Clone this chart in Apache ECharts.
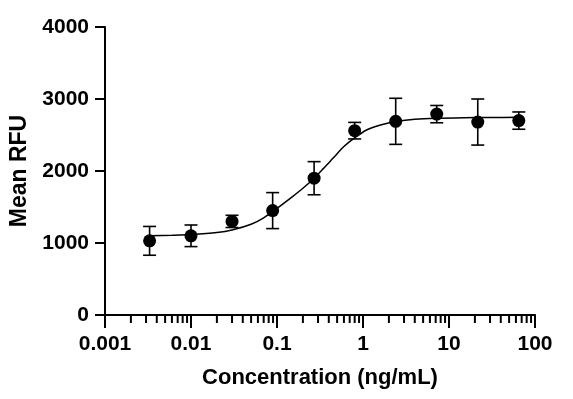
<!DOCTYPE html>
<html>
<head>
<meta charset="utf-8">
<script src="https://cdn.jsdelivr.net/npm/echarts@6/dist/echarts.min.js"></script>
<style>
html, body { margin: 0; padding: 0; background: #fff; }
#chart { width: 573px; height: 399px; }
</style>
</head>
<body>
<div id="chart"></div>
<script>
// measured points (ng/mL), mean RFU and error (+/-)
var conc = [0.0033, 0.01, 0.03, 0.089, 0.27, 0.8, 2.4, 7.2, 21.6, 64.8];
var meanRfu = [1030, 1100, 1300, 1450, 1900, 2560, 2690, 2790, 2680, 2700];
var errRfu = [200, 150, 85, 250, 230, 115, 320, 120, 320, 120];

// fitted curve
var fitConc = [0.0033, 0.006, 0.01, 0.02, 0.03, 0.05, 0.07, 0.1, 0.15, 0.2, 0.27, 0.35, 0.45, 0.6, 0.8, 1.1, 1.6, 2.5, 4, 7, 15, 30, 65];
var fitRfu = [1100, 1108, 1118, 1145, 1180, 1260, 1350, 1480, 1640, 1760, 1900, 2040, 2180, 2340, 2460, 2570, 2640, 2690, 2718, 2733, 2741, 2744, 2745];

var xTickLabels = ['0.001', '0.01', '0.1', '1', '10', '100'];
var yTickLabels = ['0', '1000', '2000', '3000', '4000'];

// minor ticks of the log axis
var minorSteps = [2, 3, 4, 5, 6, 7, 8, 9];
var decades = [0.001, 0.01, 0.1, 1, 10];
var minorTicks = [];
decades.forEach(function(d) {
	minorSteps.forEach(function(s) {
		minorTicks.push([+(d * s).toPrecision(3), 0]);
	});
});

var font = 'Liberation Sans, Arial, sans-serif';

var myChart = echarts.init(document.getElementById('chart'));

option = {
	animation: false,
	grid: {
		left: 102,
		right: 38,
		top: 27,
		bottom: 84
	},
	xAxis: {
		type: 'log',
		logBase: 10,
		min: 0.001,
		max: 100,
		name: 'Concentration (ng/mL)',
		nameLocation: 'middle',
		nameGap: 52,
		nameTextStyle: {
			color: '#000',
			fontFamily: font,
			fontWeight: 'bold',
			fontSize: 22
		},
		axisLine: {
			onZero: false,
			lineStyle: { color: '#000', width: 2 }
		},
		axisTick: {
			show: true,
			length: 13,
			lineStyle: { color: '#000', width: 2 }
		},
		axisLabel: {
			color: '#000',
			fontFamily: font,
			fontWeight: 'bold',
			fontSize: 21,
			margin: 19,
			formatter: function(v, i) {
				return xTickLabels[i];
			}
		},
		splitLine: { show: false }
	},
	yAxis: {
		type: 'value',
		min: 0,
		max: 4000,
		interval: 1000,
		name: 'Mean RFU',
		nameLocation: 'middle',
		nameGap: 74,
		nameTextStyle: {
			color: '#000',
			fontFamily: font,
			fontWeight: 'bold',
			fontSize: 23
		},
		axisLine: {
			show: true,
			lineStyle: { color: '#000', width: 2 }
		},
		axisTick: {
			show: true,
			length: 10,
			lineStyle: { color: '#000', width: 2 }
		},
		axisLabel: {
			color: '#000',
			fontFamily: font,
			fontWeight: 'bold',
			fontSize: 21,
			margin: 16,
			formatter: function(v, i) {
				return yTickLabels[i];
			}
		},
		splitLine: { show: false }
	},
	series: [{
			name: 'minor',
			type: 'custom',
			clip: false,
			data: minorTicks,
			renderItem: function(params, api) {
				var p = api.coord([api.value(0), api.value(1)]);
				return {
					type: 'line',
					shape: { x1: p[0], y1: p[1], x2: p[0], y2: p[1] + 8 },
					style: { stroke: '#000', lineWidth: 2, fill: null }
				};
			},
			z: 10
		},
		{
			name: 'fit',
			type: 'line',
			data: fitConc.map(function(c, i) { return [c, fitRfu[i]]; }),
			showSymbol: false,
			smooth: 0.3,
			lineStyle: { color: '#000', width: 1.5 },
			z: 3
		},
		{
			name: 'error',
			type: 'custom',
			data: conc.map(function(c, i) { return [c, meanRfu[i], errRfu[i]]; }),
			renderItem: function(params, api) {
				var x = api.value(0), y = api.value(1), e = api.value(2);
				var top = api.coord([x, y + e]);
				var bot = api.coord([x, y - e]);
				var w = 6.5;
				return {
					type: 'group',
					children: [{
						type: 'line',
						shape: { x1: top[0], y1: top[1], x2: bot[0], y2: bot[1] },
						style: { stroke: '#000', lineWidth: 1.6 }
					}, {
						type: 'line',
						shape: { x1: top[0] - w, y1: top[1], x2: top[0] + w, y2: top[1] },
						style: { stroke: '#000', lineWidth: 1.6 }
					}, {
						type: 'line',
						shape: { x1: bot[0] - w, y1: bot[1], x2: bot[0] + w, y2: bot[1] },
						style: { stroke: '#000', lineWidth: 1.6 }
					}]
				};
			},
			z: 4
		},
		{
			name: 'mean',
			type: 'scatter',
			data: conc.map(function(c, i) { return [c, meanRfu[i]]; }),
			symbolSize: 13,
			itemStyle: { color: '#000', opacity: 1 },
			z: 5
		}
	]
};

myChart.setOption(option);
</script>
</body>
</html>
